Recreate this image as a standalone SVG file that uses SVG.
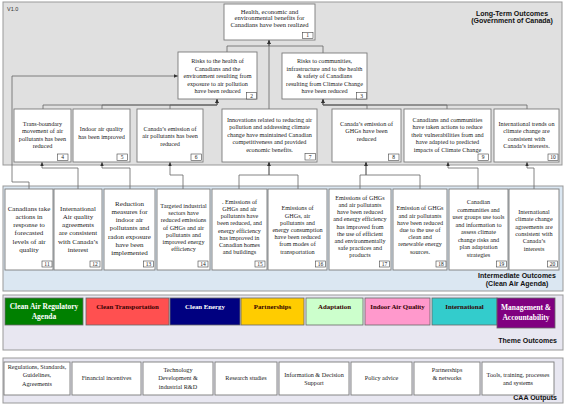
<svg xmlns="http://www.w3.org/2000/svg" width="565" height="405" viewBox="0 0 565 405">
<defs>
<marker id="ah" markerWidth="4" markerHeight="4" refX="4" refY="2" orient="auto" markerUnits="userSpaceOnUse"><path d="M0,0.3 L4,2 L0,3.7 z" fill="#333"/></marker>
<style>
.pl{fill:#e0e0e0;stroke:#999;stroke-width:1}
.pi{fill:#dbe7f2;stroke:#999;stroke-width:1}
.pt{fill:#e8e7f1;stroke:#999;stroke-width:1}
.bx{fill:#fff;stroke:#7a7a7a;stroke-width:0.9}
.nb{fill:#fff;stroke:#444;stroke-width:0.6}
.t{font-family:"Liberation Serif","Times New Roman",serif;font-size:6.2px;fill:#222;text-anchor:middle}
.t7{font-size:7px}
.t1{font-size:6.6px}
.n{font-family:"Liberation Serif","Times New Roman",serif;font-size:5.5px;fill:#222;text-anchor:middle}
.lb{font-family:"Liberation Sans",Arial,sans-serif;font-weight:bold;font-size:7px;fill:#111}
.th{font-family:"Liberation Serif","Times New Roman",serif;font-weight:bold;font-size:6.8px;text-anchor:middle;fill:#300}
.th2{font-size:7.5px}
.w{fill:#fff}
.tb{stroke:#666;stroke-width:0.8}
.c{fill:none;stroke:#666;stroke-width:0.8}
</style>
</defs>

<g id="panels">
<rect class="pl" x="3" y="2" width="559" height="163"/>
<rect class="pi" x="3" y="186" width="560" height="105"/>
<rect class="pt" x="3" y="295" width="560" height="55"/>
<rect class="pt" x="3" y="358" width="560" height="45"/>
<text x="7" y="11" font-family="Liberation Sans, Arial, sans-serif" font-size="5.5" fill="#333">V1.0</text>
<text class="lb" text-anchor="middle"><tspan x="512" y="15.5">Long-Term Outcomes</tspan><tspan x="512" y="23">(Government of Canada)</tspan></text>
<text class="lb" text-anchor="middle"><tspan x="517" y="278">Intermediate Outcomes</tspan><tspan x="517" y="285.5">(Clean Air Agenda)</tspan></text>
<text class="lb" text-anchor="end" x="557" y="343">Theme Outcomes</text>
<text class="lb" text-anchor="end" x="557" y="400">CAA Outputs</text>
</g>

<g id="connectors">
<path class="c" marker-end="url(#ah)" d="M227,52 V46 H269 V40"/>
<path class="c" marker-end="url(#ah)" d="M323,53 V46 H269 V40"/>
<path class="c" marker-end="url(#ah)" d="M269,109 V40"/>
<path class="c" marker-end="url(#ah)" d="M43,109 V105 H217 V99"/>
<path class="c" marker-end="url(#ah)" d="M102,109 V105 H217 V99"/>
<path class="c" marker-end="url(#ah)" d="M170,109 V105 H217 V99"/>
<path class="c" marker-end="url(#ah)" d="M367,109 V105 H323 V99"/>
<path class="c" marker-end="url(#ah)" d="M447,109 V105 H323 V99"/>
<path class="c" marker-end="url(#ah)" d="M527,109 V105 H323 V99"/>
<path class="c" marker-end="url(#ah)" d="M29,189 V182 H12 V76 H178"/>
<path class="c" marker-end="url(#ah)" d="M78,189 V168 H42 V162"/>
<path class="c" marker-end="url(#ah)" d="M130,189 V168 H102 V162"/>
<path class="c" marker-end="url(#ah)" d="M183,189 V175 H170 V162"/>
<path class="c" marker-end="url(#ah)" d="M239,189 V175 H269 V162"/>
<path class="c" marker-end="url(#ah)" d="M298,189 V175 H269 V162"/>
<path class="c" marker-end="url(#ah)" d="M360,189 V175 H366 V162"/>
<path class="c" marker-end="url(#ah)" d="M420,189 V175 H366 V162"/>
<path class="c" marker-end="url(#ah)" d="M478,189 V168 H448 V162"/>
<path class="c" marker-end="url(#ah)" d="M534,189 V168 H527 V162"/>
</g>

<g id="n1"><rect class="bx" x="224" y="4" width="91" height="36"/>
<text class="t t1"><tspan x="269.5" y="13.5">Health, economic and</tspan><tspan x="269.5" y="20.3">environmental benefits  for</tspan><tspan x="269.5" y="27.1">Canadians have been realized</tspan></text>
<rect class="nb" x="302.5" y="32.5" width="10.5" height="6"/><text class="n" x="307.7" y="37.4">1</text></g>

<g id="n2"><rect class="bx" x="178" y="52" width="79" height="47"/>
<text class="t"><tspan x="217.5" y="63">Risks to the health of</tspan><tspan x="217.5" y="70.5">Canadians and the</tspan><tspan x="217.5" y="78">environment resulting from</tspan><tspan x="217.5" y="85.5">exposure to air pollution</tspan><tspan x="217.5" y="93">have been reduced</tspan></text>
<rect class="nb" x="246.5" y="92.5" width="10" height="6.5"/><text class="n" x="251.5" y="97.6">2</text></g>

<g id="n3"><rect class="bx" x="282" y="53" width="85" height="46"/>
<text class="t"><tspan x="324.5" y="63">Risks to communities,</tspan><tspan x="324.5" y="70.5">infrastructure and to the health</tspan><tspan x="324.5" y="78">&amp; safety of Canadians</tspan><tspan x="324.5" y="85.5">resulting from Climate Change</tspan><tspan x="324.5" y="93">have been reduced</tspan></text>
<rect class="nb" x="356.5" y="92.5" width="10" height="6.5"/><text class="n" x="361.5" y="97.6">3</text></g>

<g id="n4"><rect class="bx" x="14" y="109" width="57" height="53"/>
<text class="t"><tspan x="42.5" y="126">Trans-boundary</tspan><tspan x="42.5" y="133.3">movement of air</tspan><tspan x="42.5" y="140.6">pollutants has been</tspan><tspan x="42.5" y="147.9">reduced</tspan></text>
<rect class="nb" x="57.5" y="154" width="10.5" height="6.5"/><text class="n" x="62.7" y="159.1">4</text></g>

<g id="n5"><rect class="bx" x="73" y="109" width="57" height="53"/>
<text class="t"><tspan x="101.5" y="131">Indoor air quality</tspan><tspan x="101.5" y="138.5">has been improved</tspan></text>
<rect class="nb" x="117" y="154" width="10.5" height="6.5"/><text class="n" x="122.2" y="159.1">5</text></g>

<g id="n6"><rect class="bx" x="137" y="109" width="66" height="53"/>
<text class="t"><tspan x="170" y="131">Canada’s emission of</tspan><tspan x="170" y="138.3">air pollutants has been</tspan><tspan x="170" y="145.6">reduced</tspan></text>
<rect class="nb" x="191" y="154" width="10.5" height="6.5"/><text class="n" x="196.2" y="159.1">6</text></g>

<g id="n7"><rect class="bx" x="222" y="109" width="95" height="53"/>
<text class="t"><tspan x="269.5" y="122">Innovations related to reducing air</tspan><tspan x="269.5" y="129.4">pollution and addressing climate</tspan><tspan x="269.5" y="136.8">change have maintained Canadian</tspan><tspan x="269.5" y="144.2">competitiveness and provided</tspan><tspan x="269.5" y="151.6">economic benefits.</tspan></text>
<rect class="nb" x="305" y="153.5" width="10.5" height="6.5"/><text class="n" x="310.2" y="158.6">7</text></g>

<g id="n8"><rect class="bx" x="332" y="109" width="69" height="53"/>
<text class="t"><tspan x="366.5" y="126">Canada’s emission of</tspan><tspan x="366.5" y="133.3">GHGs have been</tspan><tspan x="366.5" y="140.6">reduced</tspan></text>
<rect class="nb" x="388.5" y="154" width="10.5" height="6.5"/><text class="n" x="393.7" y="159.1">8</text></g>

<g id="n9"><rect class="bx" x="404" y="109" width="87" height="53"/>
<text class="t"><tspan x="447.5" y="122">Canadians and communities</tspan><tspan x="447.5" y="129.4">have taken actions to reduce</tspan><tspan x="447.5" y="136.8">their vulnerabilities from and</tspan><tspan x="447.5" y="144.2">have adapted to predicted</tspan><tspan x="447.5" y="151.6">impacts of Climate Change</tspan></text>
<rect class="nb" x="478" y="154" width="10.5" height="6.5"/><text class="n" x="483.2" y="159.1">9</text></g>

<g id="n10"><rect class="bx" x="494" y="109" width="65" height="53"/>
<text class="t"><tspan x="526.5" y="126">International trends on</tspan><tspan x="526.5" y="133.3">climate change are</tspan><tspan x="526.5" y="140.6">consistent with</tspan><tspan x="526.5" y="147.9">Canada’s interests.</tspan></text>
<rect class="nb" x="548" y="154" width="10" height="6.5"/><text class="n" x="553" y="159.1">10</text></g>

<g id="n11"><rect class="bx" x="5" y="189" width="48" height="81"/>
<text class="t t7"><tspan x="29" y="210.5">Canadians take</tspan><tspan x="29" y="218.8">actions in</tspan><tspan x="29" y="227.1">response to</tspan><tspan x="29" y="235.4">forecasted</tspan><tspan x="29" y="243.7">levels of air</tspan><tspan x="29" y="252">quality</tspan></text>
<rect class="nb" x="42" y="261" width="10" height="6"/><text class="n" x="47" y="265.8">11</text></g>

<g id="n12"><rect class="bx" x="54" y="189" width="48" height="81"/>
<text class="t t7"><tspan x="78" y="210.5">International</tspan><tspan x="78" y="218.8">Air quality</tspan><tspan x="78" y="227.1">agreements</tspan><tspan x="78" y="235.4">are consistent</tspan><tspan x="78" y="243.7">with Canada’s</tspan><tspan x="78" y="252">interest</tspan></text>
<rect class="nb" x="90" y="261" width="10" height="6"/><text class="n" x="95" y="265.8">12</text></g>

<g id="n13"><rect class="bx" x="104" y="189" width="51" height="81"/>
<text class="t t7"><tspan x="129.5" y="205.5">Reduction</tspan><tspan x="129.5" y="213.8">measures for</tspan><tspan x="129.5" y="222.1">indoor air</tspan><tspan x="129.5" y="230.4">pollutants and</tspan><tspan x="129.5" y="238.7">radon exposure</tspan><tspan x="129.5" y="247">have been</tspan><tspan x="129.5" y="255.3">implemented</tspan></text>
<rect class="nb" x="143.5" y="261" width="10" height="6"/><text class="n" x="148.5" y="265.8">13</text></g>

<g id="n14"><rect class="bx" x="157" y="189" width="53" height="81"/>
<text class="t"><tspan x="183.5" y="208">Targeted industrial</tspan><tspan x="183.5" y="215.2">sectors have</tspan><tspan x="183.5" y="222.4">reduced emissions</tspan><tspan x="183.5" y="229.6">of GHGs and air</tspan><tspan x="183.5" y="236.8">pollutants and</tspan><tspan x="183.5" y="244">improved energy</tspan><tspan x="183.5" y="251.2">efficiency</tspan></text>
<rect class="nb" x="198" y="261" width="10" height="6"/><text class="n" x="203" y="265.8">14</text></g>

<g id="n15"><rect class="bx" x="212" y="189" width="55" height="81"/>
<text class="t"><tspan x="239.5" y="203.8">. Emissions of</tspan><tspan x="239.5" y="211">GHGs and air</tspan><tspan x="239.5" y="218.2">pollutants have</tspan><tspan x="239.5" y="225.4">been reduced, and</tspan><tspan x="239.5" y="232.6">energy efficiency</tspan><tspan x="239.5" y="239.8">has improved in</tspan><tspan x="239.5" y="247">Canadian homes</tspan><tspan x="239.5" y="254.2">and buildings</tspan></text>
<rect class="nb" x="255" y="261" width="10" height="6"/><text class="n" x="260" y="265.8">15</text></g>

<g id="n16"><rect class="bx" x="268" y="189" width="59" height="81"/>
<text class="t"><tspan x="297.5" y="210.3">Emissions of</tspan><tspan x="297.5" y="217.5">GHGs, air</tspan><tspan x="297.5" y="224.7">pollutants and</tspan><tspan x="297.5" y="231.9">energy consumption</tspan><tspan x="297.5" y="239.1">have been reduced</tspan><tspan x="297.5" y="246.3">from modes of</tspan><tspan x="297.5" y="253.5">transportation</tspan></text>
<rect class="nb" x="315.5" y="261" width="10" height="6"/><text class="n" x="320.5" y="265.8">16</text></g>

<g id="n17"><rect class="bx" x="329" y="189" width="62" height="81"/>
<text class="t"><tspan x="360" y="199.8">Emissions of GHGs</tspan><tspan x="360" y="207">and air pollutants</tspan><tspan x="360" y="214.2">have been reduced</tspan><tspan x="360" y="221.4">and energy efficiency</tspan><tspan x="360" y="228.6">has improved from</tspan><tspan x="360" y="235.8">the use of efficient</tspan><tspan x="360" y="243">and environmentally</tspan><tspan x="360" y="250.2">safe practices and</tspan><tspan x="360" y="257.4">products</tspan></text>
<rect class="nb" x="379.5" y="261" width="10" height="6"/><text class="n" x="384.5" y="265.8">17</text></g>

<g id="n18"><rect class="bx" x="393" y="189" width="54" height="81"/>
<text class="t"><tspan x="420" y="210.3">Emission of GHGs</tspan><tspan x="420" y="217.5">and air pollutants</tspan><tspan x="420" y="224.7">have been reduced</tspan><tspan x="420" y="231.9">due to the use of</tspan><tspan x="420" y="239.1">clean and</tspan><tspan x="420" y="246.3">renewable energy</tspan><tspan x="420" y="253.5">sources.</tspan></text>
<rect class="nb" x="436" y="261" width="10" height="6"/><text class="n" x="441" y="265.8">18</text></g>

<g id="n19"><rect class="bx" x="449" y="189" width="59" height="81"/>
<text class="t"><tspan x="478.5" y="204.3">Canadian</tspan><tspan x="478.5" y="211.8">communities and</tspan><tspan x="478.5" y="219.3">user groups use tools</tspan><tspan x="478.5" y="226.8">and information to</tspan><tspan x="478.5" y="234.3">assess climate</tspan><tspan x="478.5" y="241.8">change risks and</tspan><tspan x="478.5" y="249.3">plan adaptation</tspan><tspan x="478.5" y="256.8">strategies</tspan></text>
<rect class="nb" x="496.5" y="261" width="10" height="6"/><text class="n" x="501.5" y="265.8">19</text></g>

<g id="n20"><rect class="bx" x="509" y="189" width="50" height="81"/>
<text class="t"><tspan x="534" y="213.7">International</tspan><tspan x="534" y="221.1">climate change</tspan><tspan x="534" y="228.5">agreements are</tspan><tspan x="534" y="235.9">consistent with</tspan><tspan x="534" y="243.3">Canada’s</tspan><tspan x="534" y="250.7">interests</tspan></text>
<rect class="nb" x="547.5" y="261" width="10" height="6"/><text class="n" x="552.5" y="265.8">20</text></g>

<g id="themes">
<g id="th1"><rect class="tb" x="5" y="298" width="78" height="27" fill="#008000"/><text class="th th2 w"><tspan x="44" y="309">Clean Air Regulatory</tspan><tspan x="44" y="318.5">Agenda</tspan></text></g>
<g id="th2"><rect class="tb" x="86" y="298" width="83" height="27" fill="#ff5050"/><text class="th" x="127.5" y="308.5">Clean Transportation</text></g>
<g id="th3"><rect class="tb" x="170" y="298" width="70" height="27" fill="#000080"/><text class="th w" x="205" y="308.5">Clean Energy</text></g>
<g id="th4"><rect class="tb" x="241" y="298" width="63" height="27" fill="#ffcc00"/><text class="th" x="272.5" y="308.5">Partnerships</text></g>
<g id="th5"><rect class="tb" x="306" y="298" width="57" height="27" fill="#ccffcc"/><text class="th" x="334.5" y="308.5">Adaptation</text></g>
<g id="th6"><rect class="tb" x="365" y="298" width="65" height="27" fill="#ff99cc"/><text class="th" x="397.5" y="308.5">Indoor Air Quality</text></g>
<g id="th7"><rect class="tb" x="432" y="298" width="65" height="27" fill="#33cccc"/><text class="th" x="464.5" y="308.5">International</text></g>
<g id="th8"><rect class="tb" x="497" y="298" width="58" height="30" fill="#800080"/><text class="th th2 w"><tspan x="526" y="310">Management &amp;</tspan><tspan x="526" y="319.5">Accountability</tspan></text></g>
</g>

<g id="outputs">
<g id="o1"><rect class="bx" x="4" y="362" width="66" height="33"/><text class="t"><tspan x="37" y="369">Regulations, Standards,</tspan><tspan x="37" y="377.4">Guidelines,</tspan><tspan x="37" y="385.7">Agreements</tspan></text></g>
<g id="o2"><rect class="bx" x="72" y="362" width="69" height="33"/><text class="t" x="106.5" y="380.3">Financial incentives</text></g>
<g id="o3"><rect class="bx" x="143" y="362" width="70" height="33"/><text class="t"><tspan x="178" y="372">Technology</tspan><tspan x="178" y="380.3">Development &amp;</tspan><tspan x="178" y="388.6">industrial R&amp;D</tspan></text></g>
<g id="o4"><rect class="bx" x="215" y="362" width="62" height="33"/><text class="t" x="246" y="380.3">Research studies</text></g>
<g id="o5"><rect class="bx" x="279" y="362" width="70" height="33"/><text class="t"><tspan x="314" y="376.7">Information &amp; Decision</tspan><tspan x="314" y="385">Support</tspan></text></g>
<g id="o6"><rect class="bx" x="351" y="362" width="61" height="33"/><text class="t" x="381.5" y="380.3">Policy advice</text></g>
<g id="o7"><rect class="bx" x="414" y="362" width="66" height="33"/><text class="t"><tspan x="447" y="372">Partnerships</tspan><tspan x="447" y="380.3">&amp; networks</tspan></text></g>
<g id="o8"><rect class="bx" x="482" y="362" width="72" height="33"/><text class="t"><tspan x="518" y="376.7">Tools, training, processes</tspan><tspan x="518" y="385">and systems</tspan></text></g>
</g>
</svg>
